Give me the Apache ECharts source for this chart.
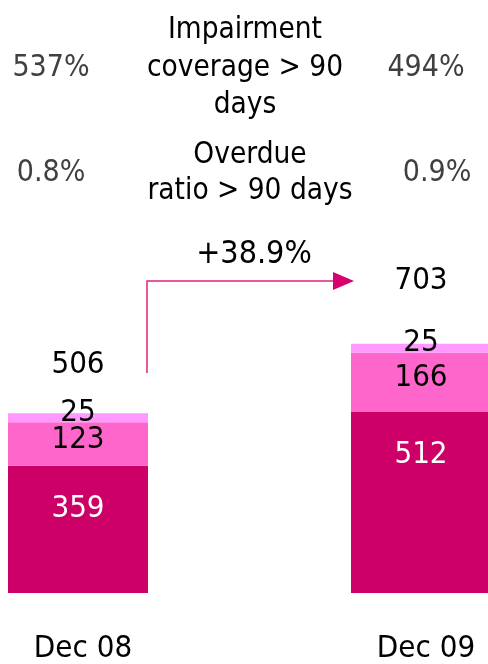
<!DOCTYPE html>
<html><head><meta charset="utf-8">
<script src="https://cdn.jsdelivr.net/npm/echarts@6/dist/echarts.min.js"></script>
<style>html,body{margin:0;padding:0;background:#fff}#c{width:488px;height:664px}</style>
</head><body><div id="c"></div>
<script>
const categories = ['Dec 08', 'Dec 09'];
const seriesBase = [359, 512];
const seriesMid = [123, 166];
const seriesTop = [25, 25];
const totals = [506, 703];
const coverage = ['537%', '494%'];
const overdue = ['0.8%', '0.9%'];
const growth = '+38.9%';

const FONT = '"DejaVu Sans Condensed", "Noto Sans", sans-serif';
const chart = echarts.init(document.getElementById('c'), null, {renderer: 'canvas'});
const totalOffsets = [-49, -63];
const LBL = 31;
const dy = 3;

chart.setOption({
  animation: false,
  grid: {left: 78, right: 67, top: 309.5, bottom: 70},
  xAxis: {
    type: 'category', data: categories, boundaryGap: false,
    axisLine: {show: false}, axisTick: {show: false},
    axisLabel: {fontFamily: FONT, fontSize: 31, color: '#000', margin: 40, padding: [0, 0, 0, 10]}
  },
  yAxis: {type: 'value', min: 0, max: 800, show: false, splitLine: {show: false}},
  series: [
    {type: 'bar', stack: 's', data: seriesBase, barWidth: 140, clip: false,
     itemStyle: {color: '#CC0066'},
     label: {show: true, position: 'insideTop', distance: 28, color: '#fff', fontFamily: FONT, fontSize: LBL}},
    {type: 'bar', stack: 's', data: seriesMid, barWidth: 140, clip: false,
     itemStyle: {color: '#FF66CC'},
     label: {show: true, position: 'inside', offset: [0, -4], color: '#000', fontFamily: FONT, fontSize: LBL}},
    {type: 'bar', stack: 's', data: seriesTop, barWidth: 140, clip: false,
     itemStyle: {color: '#FF99FF'},
     label: {show: true, position: 'inside', offset: [0, -5], color: '#000', fontFamily: FONT, fontSize: LBL}},
    {type: 'scatter', symbolSize: 0, clip: false, silent: true, itemStyle: {opacity: 1},
     data: totals.map((v, i) => ({value: [i, v], label: {offset: [0, totalOffsets[i]]}})),
     label: {show: true, position: 'inside', formatter: p => p.value[1], color: '#000', fontFamily: FONT, fontSize: LBL}}
  ],
  graphic: [
    {type: 'text', x: 51, y: 65 + dy, style: {text: coverage[0], font: '30px ' + FONT, fill: '#404040', textAlign: 'center', textVerticalAlign: 'middle'}},
    {type: 'text', x: 426, y: 65 + dy, style: {text: coverage[1], font: '30px ' + FONT, fill: '#404040', textAlign: 'center', textVerticalAlign: 'middle'}},
    {type: 'text', x: 245, y: 65 + dy, style: {text: 'Impairment\ncoverage > 90\ndays', font: '29.5px ' + FONT, lineHeight: 37.5, fill: '#000', textAlign: 'center', textVerticalAlign: 'middle'}},
    {type: 'text', x: 51, y: 170 + dy, style: {text: overdue[0], font: '30px ' + FONT, fill: '#404040', textAlign: 'center', textVerticalAlign: 'middle'}},
    {type: 'text', x: 437, y: 170 + dy, style: {text: overdue[1], font: '30px ' + FONT, fill: '#404040', textAlign: 'center', textVerticalAlign: 'middle'}},
    {type: 'text', x: 250, y: 170 + dy, style: {text: 'Overdue\nratio > 90 days', font: '29.5px ' + FONT, lineHeight: 36, fill: '#000', textAlign: 'center', textVerticalAlign: 'middle'}},
    {type: 'text', x: 254, y: 252 + dy, style: {text: growth, font: '32px ' + FONT, fill: '#000', textAlign: 'center', textVerticalAlign: 'middle'}},
    {type: 'polyline', shape: {points: [[147, 373], [147, 281], [336, 281]]}, style: {stroke: '#E0237F', lineWidth: 1.5, fill: null}},
    {type: 'polygon', shape: {points: [[333, 272], [354, 281], [333, 290]]}, style: {fill: '#D6006E'}}
  ]
});
</script></body></html>
